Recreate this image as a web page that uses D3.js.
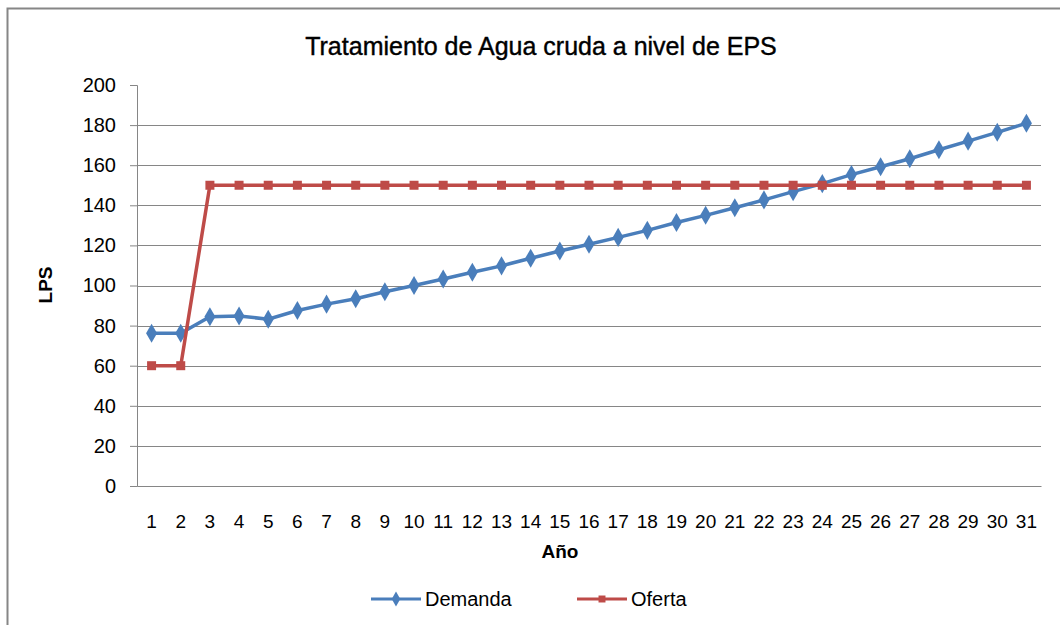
<!DOCTYPE html>
<meta charset="utf-8">
<head>
    <script src="https://d3js.org/d3.v7.min.js"></script>
    <style>
        body { margin: 0; background: #fff; }
        text { font-family: "Liberation Sans", Arial, sans-serif; fill: #000; }
        .grid line { stroke: #868686; stroke-width: 1; }
        .line { fill: none; stroke-width: 3.5; }
    </style>
</head>
<body>
<div id="my_dataviz"></div>
<script>

    // data
    var years = d3.range(1, 32);   // 1..31
    var demanda = [76.2, 76.2, 84.4, 84.8, 83.2, 87.5, 90.7, 93.4, 96.9, 100,
                   103.2, 106.6, 109.8, 113.6, 117.2, 120.6, 124, 127.5, 131.4, 135,
                   138.8, 142.7, 146.8, 150.8, 155.3, 159.2, 163.2, 167.7, 172, 176.4, 180.9];
    var oferta = [60, 60, 150, 150, 150, 150, 150, 150, 150, 150,
                  150, 150, 150, 150, 150, 150, 150, 150, 150, 150,
                  150, 150, 150, 150, 150, 150, 150, 150, 150, 150, 150];
    var yTicks = [0, 20, 40, 60, 80, 100, 120, 140, 160, 180, 200];

    var series = [
        { name: "Demanda", values: demanda, color: "#4A7EBB", symbol: d3.symbolDiamond, size: 105 },
        { name: "Oferta",  values: oferta,  color: "#BE4B48", symbol: d3.symbolSquare,  size: 81 }
    ];

    var W = 1060, H = 625;
    var margin = { top: 85, right: 19, bottom: 139, left: 137 };
    var width = W - margin.left - margin.right;
    var height = H - margin.top - margin.bottom;

    var root = d3.select("#my_dataviz").append("svg")
        .attr("width", W)
        .attr("height", H);

    // chart border (only top/left edges fall inside the picture)
    root.append("rect")
        .attr("x", 7.5).attr("y", 8.5)
        .attr("width", W + 20).attr("height", H + 20)
        .attr("fill", "none")
        .attr("stroke", "#868686")
        .attr("stroke-width", 2);

    // title
    root.append("text")
        .attr("x", 541).attr("y", 55)
        .attr("text-anchor", "middle")
        .style("font-size", "25px")
        .style("stroke", "#000").style("stroke-width", 0.4)
        .text("Tratamiento de Agua cruda a nivel de EPS");

    var svg = root.append("g")
        .attr("transform", "translate(" + margin.left + "," + margin.top + ")");

    var x = d3.scaleBand().domain(years).range([0, width]);
    var y = d3.scaleLinear().domain([0, 200]).range([height, 0]);

    // gridlines (none at the top value)
    svg.append("g").attr("class", "grid")
        .selectAll("line")
        .data(yTicks.filter(function (d) { return d > 0 && d < 200; }))
        .enter().append("line")
        .attr("x1", 0).attr("x2", width)
        .attr("y1", function (d) { return Math.round(y(d)) + 0.5; })
        .attr("y2", function (d) { return Math.round(y(d)) + 0.5; });

    // y axis
    var yAxis = svg.append("g")
        .call(d3.axisLeft(y).tickValues(yTicks).tickSize(7).tickPadding(14));
    yAxis.select(".domain").attr("stroke", "#868686");
    yAxis.selectAll(".tick line").attr("stroke", "#868686")
        .filter(function (d) { return d === 200; }).remove();
    yAxis.selectAll(".tick text").style("font-size", "20px").attr("fill", "#000");

    // x axis
    var xAxis = svg.append("g")
        .attr("transform", "translate(0," + height + ")")
        .call(d3.axisBottom(x).tickSize(0).tickPadding(29));
    xAxis.select(".domain").attr("stroke", "#868686");
    xAxis.selectAll(".tick text").style("font-size", "19px").attr("fill", "#000");

    // axis titles
    root.append("text")
        .attr("x", 560).attr("y", 558)
        .attr("text-anchor", "middle")
        .style("font-size", "19px").style("font-weight", "bold")
        .text("Año");

    root.append("text")
        .attr("transform", "translate(52,285) rotate(-90)")
        .attr("text-anchor", "middle")
        .style("font-size", "19px").style("font-weight", "bold")
        .text("LPS");

    var cx = function (i) { return x(years[i]) + x.bandwidth() / 2; };

    var line = d3.line()
        .x(function (d, i) { return cx(i); })
        .y(function (d) { return y(d); });

    series.forEach(function (s) {
        svg.append("path")
            .datum(s.values)
            .attr("class", "line")
            .attr("stroke", s.color)
            .attr("d", line);

        svg.append("g")
            .selectAll("path")
            .data(s.values)
            .enter().append("path")
            .attr("transform", function (d, i) { return "translate(" + cx(i) + "," + y(d) + ")"; })
            .attr("d", d3.symbol().type(s.symbol).size(s.size))
            .attr("fill", s.color);
    });

    // legend
    var legendX = [371, 577];
    var legend = root.append("g").attr("transform", "translate(0,599)");
    series.forEach(function (s, i) {
        var g = legend.append("g").attr("transform", "translate(" + legendX[i] + ",0)");
        g.append("line")
            .attr("x1", 0).attr("x2", 50)
            .attr("stroke", s.color).attr("stroke-width", 3);
        g.append("path")
            .attr("transform", "translate(25,0)")
            .attr("d", d3.symbol().type(s.symbol).size(s.size * 0.6))
            .attr("fill", s.color);
        g.append("text")
            .attr("x", 54).attr("dy", "0.35em")
            .style("font-size", "20px")
            .text(s.name);
    });

</script>
</body>
